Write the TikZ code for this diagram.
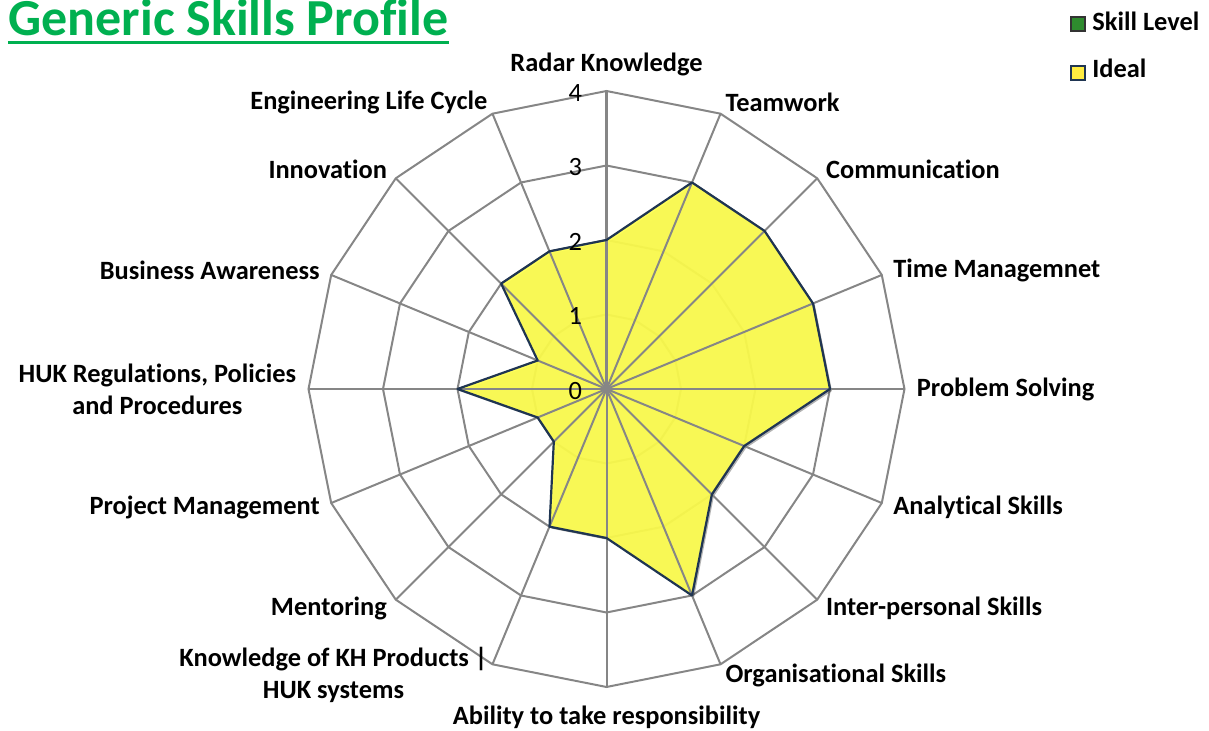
\documentclass[tikz,border=0pt]{standalone}
\usepackage{fontspec}
\setmainfont{Carlito}[Ligatures=NoCommon]
\usetikzlibrary{positioning}

\definecolor{titlegreen}{HTML}{00B050}
\definecolor{gridgray}{HTML}{868686}
\definecolor{idealyellow}{HTML}{FFFF4D}
\definecolor{idealedge}{HTML}{1F3552}
\definecolor{skillgreen}{HTML}{2E8B2E}

\begin{document}
\begin{tikzpicture}
        [x=0.5pt, y=0.5pt,
         ring/.style={draw=gridgray, line width=1pt},
         spoke/.style={draw=gridgray, line width=1pt},
         scalelbl/.style={font=\fontsize{13.2}{16}\selectfont, inner sep=0pt, anchor=east},
         axislbl/.style={font=\fontsize{13.2}{16}\selectfont\bfseries, inner sep=0pt, align=center},
         keybox/.style={minimum size=7.2pt, inner sep=0pt, line width=0.8pt},
         keytext/.style={font=\fontsize{13.2}{16}\selectfont\bfseries, inner sep=0pt, anchor=base west}]
      \useasboundingbox (-606.5,-342) rectangle (602.5,389);

      % title
      \node[font=\fontsize{26}{30}\selectfont\bfseries, text=titlegreen, inner sep=0pt,
            anchor=base west] (title) at (-598.5,353.5) {Generic Skills Profile};
      \draw[titlegreen, line width=1.5pt] ([yshift=-3.4pt]title.base west) -- ([yshift=-3.4pt]title.base east);

      % rings and the ideal profile
      \coordinate (c) at (0,0);
      \foreach \r in {1,...,4}
        \draw[ring] (90:\r*74.5) \foreach \i in {1,...,15} {-- (90-\i*22.5:\r*74.5)} -- cycle;
      \foreach \v [count=\i from 0] in {2,3,3,3,3,2,2,3,2,2,1,1,2,1,2,2}
        \coordinate (p\i) at (90-\i*22.5:\v*74.5);
      \fill[black, opacity=0.3] ([shift={(2,-2)}]p0) \foreach \i in {1,...,15} {-- ([shift={(2,-2)}]p\i)} -- cycle;
      \fill[idealyellow, fill opacity=0.92] (p0) \foreach \i in {1,...,15} {-- (p\i)} -- cycle;

      % spokes
      \foreach \i in {1,...,15}
        \draw[spoke] (c) -- (90-\i*22.5:298);
      \draw[spoke, line width=1.5pt] (c) -- (90:298);
      \draw[idealedge, line width=1.1pt, line join=round] (p0) \foreach \i in {1,...,15} {-- (p\i)} -- cycle;

      % scale
      \foreach \r in {0,...,4}
        \node[scalelbl] (s\r) at (-24,\r*74.5-2) {\r};

      % axis labels
      \foreach \txt/\anc/\d [count=\i from 0] in
          {Radar Knowledge/south/313, Teamwork/west/310, Communication/west/310,
           Time Managemnet/west/310, Problem Solving/west/310, Analytical Skills/west/310,
           Inter-personal Skills/west/310, Organisational Skills/west/310,
           Ability to take responsibility/north/317,
           {Knowledge of KH Products |\\HUK systems}/east/310, Mentoring/east/310,
           Project Management/east/310, {HUK Regulations, Policies\\and Procedures}/east/310,
           Business Awareness/east/310, Innovation/east/310, Engineering Life Cycle/east/310}
        \node[axislbl, anchor=\anc] (l\i) at (90-\i*22.5:\d) {\txt};

      % legend
      \node[keybox, draw=black!80, fill=skillgreen] (k1) at (471.5,365) {};
      \node[keytext] (t1) at (485.5,358) {Skill Level};
      \node[keybox, draw=idealedge, fill=idealyellow!85!orange] (k2) at (471.5,316) {};
      \node[keytext] (t2) at (485.5,311) {Ideal};
\end{tikzpicture}
\end{document}
